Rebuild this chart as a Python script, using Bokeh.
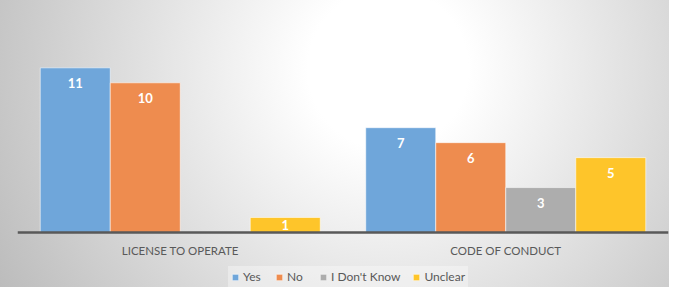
from bokeh.plotting import figure
from bokeh.models import FactorRange, Legend, LegendItem, ColumnDataSource, Span
from bokeh.transform import dodge
from bokeh.core.properties import value
from bokeh.embed import file_html
from bokeh.resources import INLINE

categories = ["LICENSE TO OPERATE", "CODE OF CONDUCT"]
series = ["Yes", "No", "I Don't Know", "Unclear"]
yes = [11, 7]
no = [10, 6]
dont_know = [0, 3]
unclear = [1, 5]
colors = ["#6FA6DA", "#EE8C4F", "#ADADAD", "#FEC52A"]

W, H = 669, 287
ppu = 14.97  # pixels per unit
base_px = 232
p = figure(x_range=FactorRange(factors=categories, range_padding=0),
           y_range=(-(H - base_px) / ppu, base_px / ppu), width=W, height=H,
           output_backend="svg", toolbar_location=None,
           x_axis_location=None, y_axis_location=None,
           min_border_left=17, min_border_right=1,
           min_border_top=0, min_border_bottom=0)
p.styles = {"background": "radial-gradient(circle farthest-corner at 58% 24%, #ffffff 0%, #ffffff 18%, #bcbcbc 100%)"}
p.background_fill_alpha = 0
p.border_fill_alpha = 0
p.outline_line_color = None
p.xgrid.grid_line_color = None
p.ygrid.grid_line_color = None

# category axis line and labels
p.add_layout(Span(location=0, dimension="width", line_color="#595959", line_width=2.5))
cat_src = ColumnDataSource(dict(cat=categories, y=[0] * len(categories)))
p.text(x="cat", y="y", text="cat", source=cat_src, y_offset=18,
       text_align="center", text_baseline="middle", text_color="#595959",
       text_font=value("Lato"), text_font_size="11.5px")

values = [yes, no, dont_know, unclear]
bw = 70 / 325.5
offsets = [-1.5 * bw, -0.5 * bw, 0.5 * bw, 1.5 * bw]

items = []
for name, vals, col, off in zip(series, values, colors, offsets):
    labels = [str(v) if v > 0 else "" for v in vals]
    yoffs = [min(15, v * ppu / 2) for v in vals]
    src = ColumnDataSource(dict(cat=categories, val=vals, lab=labels, yo=yoffs))
    r = p.vbar(x=dodge("cat", off, range=p.x_range), top="val", width=bw, source=src,
               fill_color=col, line_color="#ffffff", line_alpha=0.55, line_width=1)
    p.text(x=dodge("cat", off, range=p.x_range), y="val", text="lab", source=src,
           y_offset="yo", text_align="center", text_baseline="middle",
           text_color="white", text_font=value("Lato"), text_font_style="bold",
           text_font_size="13px")
    items.append(LegendItem(label=name, renderers=[r]))

legend = Legend(items=items, orientation="horizontal", location=(211, 0),
                glyph_width=8, glyph_height=8, label_text_font="Lato",
                label_text_font_size="12px", label_text_color="#595959",
                label_standoff=4, spacing=12, padding=3, margin=0,
                background_fill_color="#ffffff", background_fill_alpha=0.35,
                border_line_alpha=0)
p.add_layout(legend)

open("out.html", "w").write(file_html(p, INLINE))
